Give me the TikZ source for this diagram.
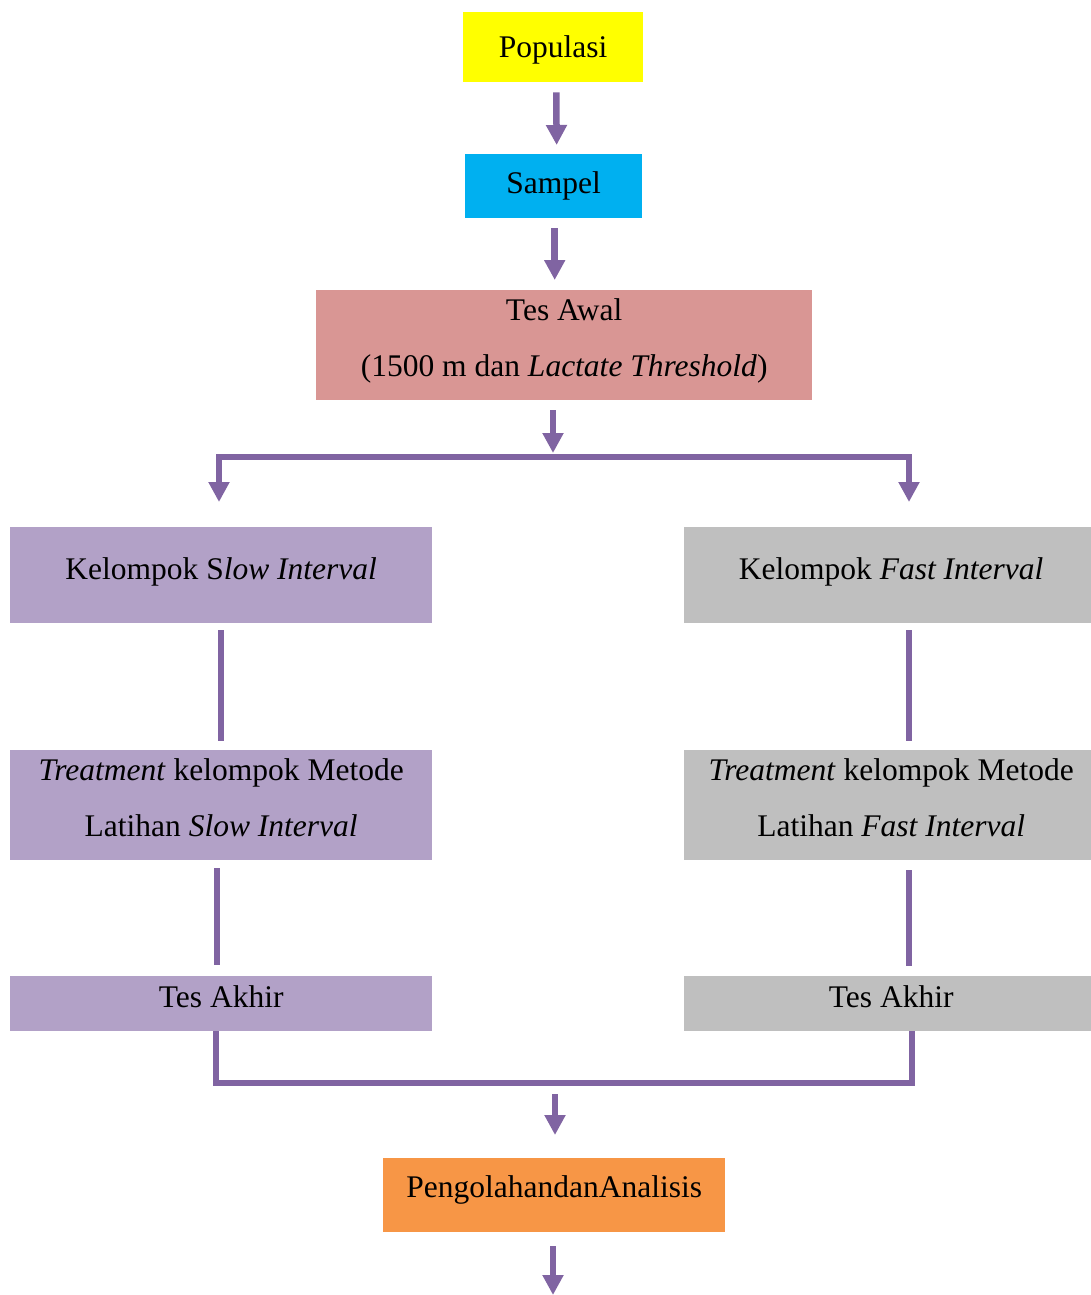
\documentclass[tikz,border=0pt]{standalone}
\usepackage{fontspec}
\setmainfont{Liberation Serif}
\usetikzlibrary{arrows.meta}
\definecolor{popyellow}{HTML}{FFFF00}
\definecolor{sampcyan}{HTML}{00B0F0}
\definecolor{awalred}{HTML}{D99694}
\definecolor{slowpurple}{HTML}{B2A1C7}
\definecolor{fastgray}{HTML}{BFBFBF}
\definecolor{procorange}{HTML}{F79646}
\definecolor{linkpurple}{HTML}{8064A2}
\newcommand{\depthstrut}{\rule[-15pt]{0pt}{15pt}}
\tikzset{
  box/.style={inner sep=0pt, anchor=north west, align=center,
    font=\fontsize{31.5}{56}\selectfont},
  oneline/.style={box, text height=#1, text depth=10pt},
  link/.style={draw=linkpurple, line width=6.5pt},
  arrow/.style={link, -{Triangle[width=20pt,length=20pt]}},
}
\begin{document}
\begin{tikzpicture}[x=1pt, y=-1pt]
\useasboundingbox (0,0) rectangle (1091,1295);

% boxes
\node[oneline=30pt, fill=popyellow, minimum width=180pt, minimum height=70pt] (pop) at (463,12) {Populasi};
\node[oneline=24pt, fill=sampcyan, minimum width=177pt, minimum height=64pt] (samp) at (465,154) {Sampel};
\node[box, fill=awalred, minimum width=496pt, minimum height=110pt] (awal) at (316,290)
  {Tes Awal\\(1500 m dan \textit{Lactate Threshold})\depthstrut};

\node[oneline=18pt, fill=slowpurple, minimum width=422pt, minimum height=96pt] (slow) at (10,527)
  {Kelompok S\textit{low Interval}};
\node[oneline=18pt, fill=fastgray, minimum width=414pt, minimum height=96pt] (fast) at (684,527)
  {Kelompok \textit{Fast Interval}};

\node[box, fill=slowpurple, minimum width=422pt, minimum height=110pt] (treatS) at (10,750)
  {\textit{Treatment} kelompok Metode\\Latihan \textit{Slow Interval}\depthstrut};
\node[box, fill=fastgray, minimum width=414pt, minimum height=110pt] (treatF) at (684,750)
  {\textit{Treatment} kelompok Metode\\Latihan \textit{Fast Interval}\depthstrut};

\node[oneline=17pt, fill=slowpurple, minimum width=422pt, minimum height=55pt] (akhirS) at (10,976) {Tes Akhir};
\node[oneline=17pt, fill=fastgray, minimum width=414pt, minimum height=55pt] (akhirF) at (684,976) {Tes Akhir};

\node[oneline=14pt, fill=procorange, minimum width=342pt, minimum height=74pt] (proc) at (383,1158)
  {PengolahandanAnalisis};

% branch and join points
\coordinate (split) at (553,457);
\coordinate (splitL) at (219,457);
\coordinate (splitR) at (909,457);
\coordinate (joinL) at (216,1083);
\coordinate (joinR) at (912,1083);
\coordinate (join) at (555,1083);
\coordinate (finish) at (553,1295);

% connectors
\draw[arrow, shorten <=10pt, shorten >=9pt] ([xshift=3pt]pop.south) -- ([xshift=3pt]samp.north);
\draw[arrow, shorten <=10pt, shorten >=10pt] ([xshift=1pt]samp.south) -- ([xshift=1pt]samp.south |- awal.north);
\draw[arrow, shorten <=10pt, shorten >=4pt] (split |- awal.south) -- (split);

\draw[link] ([xshift=-3pt]splitL) -- ([xshift=3pt]splitR);
\draw[arrow, shorten >=25pt] (splitL) -- (splitL |- slow.north);
\draw[arrow, shorten >=25pt] (splitR) -- (splitR |- fast.north);

\draw[link, shorten <=7pt, shorten >=9pt] (slow.south) -- (treatS.north);
\draw[link, shorten <=7pt, shorten >=9pt] (fast.south -| splitR) -- (treatF.north -| splitR);

\draw[link, shorten <=8pt, shorten >=11pt] ([xshift=-4pt]treatS.south) -- ([xshift=-4pt]akhirS.north);
\draw[link, shorten <=10pt, shorten >=10pt] (treatF.south -| splitR) -- (akhirF.north -| splitR);

\draw[link] (akhirS.south -| joinL) -- (joinL) -- (joinR) -- (akhirF.south -| joinR);

\draw[arrow, shorten <=11pt, shorten >=23pt] (join) -- (join |- proc.north);
\draw[arrow, shorten <=14pt] (proc.south -| finish) -- (finish);
\end{tikzpicture}
\end{document}
